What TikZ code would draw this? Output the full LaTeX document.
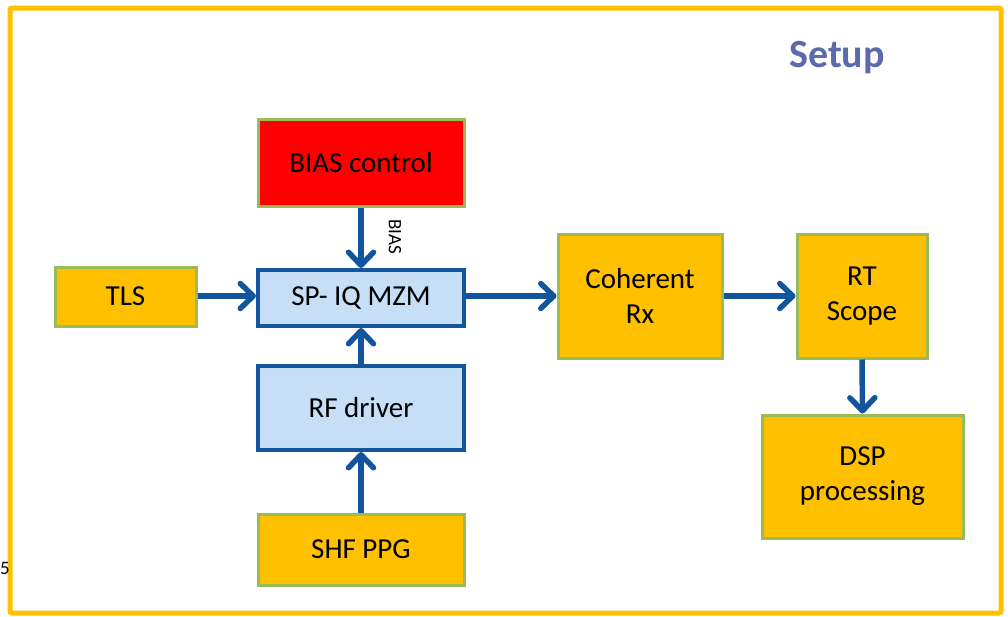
\documentclass[tikz,border=0pt]{standalone}
\usepackage{fontspec}
\setmainfont{Carlito}
\usetikzlibrary{arrows.meta}
\definecolor{frameor}{HTML}{FFC000}
\definecolor{boxor}{HTML}{FFC000}
\definecolor{grn}{HTML}{9BBB59}
\definecolor{dblue}{HTML}{12559D}
\definecolor{lblue}{HTML}{C6DFF6}
\definecolor{titleblue}{HTML}{5A6AAA}
\tikzset{
  orbox/.style={draw=grn, line width=3pt, fill=boxor, align=center, inner sep=0pt, font=\fontsize{29}{35}\selectfont},
  redbox/.style={orbox, fill=red},
  bluebox/.style={draw=dblue, line width=4pt, fill=lblue, align=center, inner sep=0pt, font=\fontsize{29}{35}\selectfont},
  conn/.style={draw=dblue, line width=5.5pt, -{Straight Barb[length=13pt,width=25pt,round]}},
}
\begin{document}
\begin{tikzpicture}[x=1pt,y=-1pt]
\useasboundingbox (0,0) rectangle (1008,616);
\fill[white] (0,0) rectangle (1008,616);
\draw[frameor, line width=5pt, rounded corners=2pt] (10,8) rectangle (1001,613);
\node[font=\fontsize{19}{23}\selectfont, anchor=west, inner sep=0pt] (pg) at (0,568) {5};
\node[font=\bfseries\fontsize{40}{48}\selectfont, text=titleblue] (title) at (837,58) {Setup};

\node[redbox, minimum width=206pt, minimum height=87pt] (bias) at (361,162.5) {BIAS control};
\node[orbox, minimum width=141pt, minimum height=59pt] (tls) at (125.5,296.5) {TLS};
\node[bluebox, minimum width=206pt, minimum height=56pt] (mzm) at (361,298) {SP- IQ MZM};
\node[bluebox, minimum width=206pt, minimum height=84pt] (rf) at (361,408) {RF driver};
\node[orbox, minimum width=206pt, minimum height=71pt] (shf) at (361,549.5) {SHF PPG};
\node[orbox, minimum width=164pt, minimum height=124pt] (coh) at (640,296) {Coherent\\Rx};
\node[orbox, minimum width=130pt, minimum height=124pt] (rt) at (862,296) {RT\\Scope};
\node[orbox, minimum width=201pt, minimum height=123pt] (dsp) at (862.5,476.5) {DSP\\processing};

\coordinate (row) at (0,296);
\draw[conn] (bias.south) -- (mzm.north);
\node[font=\fontsize{19}{22}\selectfont, rotate=-90] (biaslbl) at (395,237) {BIAS};
\draw[conn] (tls.east |- row) -- (mzm.west |- row);
\draw[conn] (mzm.east |- row) -- (coh.west |- row);
\draw[conn] (coh.east |- row) -- (rt.west |- row);
\draw[conn] (rt.south) -- (dsp.north);
\draw[conn] (rf.north) -- (mzm.south);
\draw[conn] (shf.north) -- (rf.south);
\end{tikzpicture}
\end{document}
